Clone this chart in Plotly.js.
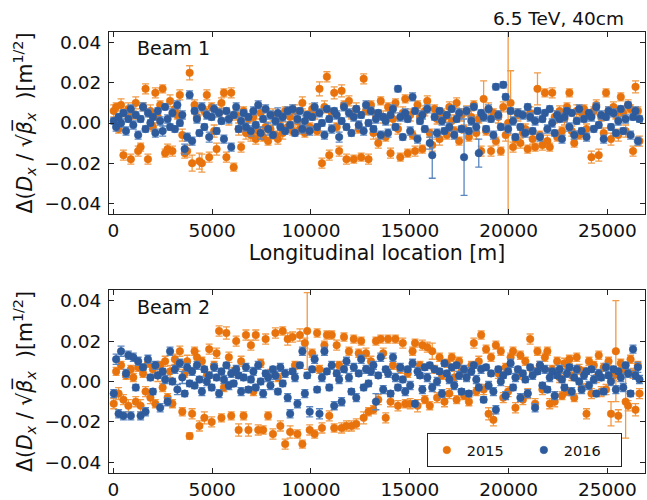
<!DOCTYPE html>
<html><head><meta charset="utf-8">
<script src="https://cdn.plot.ly/plotly-3.0.1.min.js"></script>
<style>html,body{margin:0;padding:0;background:#fff}#chart{width:647px;height:500px}</style>
</head><body><div id="chart"></div>
<script>
// BPM longitudinal locations [m]
const s_pos = [
20,140,265,390,510,640,760,885,
1010,1135,1255,1380,1505,1630,1750,1875,
2000,2125,2250,2370,2495,2620,2745,2870,
2990,3115,3240,3365,3490,3610,3735,3860,
3985,4110,4230,4355,4480,4605,4730,4850,
4975,5100,5225,5350,5470,5595,5720,5845,
5965,6090,6215,6340,6465,6590,6710,6835,
6960,7085,7205,7330,7455,7580,7705,7830,
7950,8075,8200,8325,8450,8570,8695,8820,
8945,9070,9190,9315,9440,9565,9690,9810,
9935,10060,10185,10310,10430,10555,10680,10805,
10925,11050,11175,11300,11425,11550,11670,11795,
11920,12045,12165,12290,12415,12540,12665,12785,
12910,13035,13160,13285,13405,13530,13655,13780,
13900,14025,14150,14275,14400,14520,14645,14770,
14895,15020,15140,15265,15390,15515,15635,15760,
15885,16010,16135,16255,16380,16505,16630,16755,
16875,17000,17125,17250,17370,17495,17620,17745,
17870,17990,18115,18240,18365,18490,18610,18735,
18860,18985,19110,19230,19355,19480,19605,19730,
19850,19975,20100,20225,20345,20470,20595,20720,
20845,20965,21090,21215,21340,21460,21585,21710,
21835,21960,22080,22205,22330,22455,22580,22700,
22825,22950,23075,23195,23320,23445,23570,23695,
23815,23940,24065,24190,24310,24435,24560,24685,
24810,24930,25055,25180,25305,25425,25550,25675,
25800,25920,26045,26170,26295,26420,26540,26620];

// values in units of 1e-3 m^(1/2)
const b1_2015 = [
6,8,-3,9,-16,5,7,-18,
4,10,-14,-12,8,17,-18,6,
-2,15,3,9,17,-15,-13,11,
-14,7,4,14,-6,-15,-14,25,
-20,9,3,-19,-20,6,14,-17,
8,-4,-13,5,10,15,-17,2,
15,-22,4,-3,-12,6,-5,2,
-6,3,-8,-4,5,-7,-2,-9,
-3,4,-6,-8,2,-5,6,-2,
3,-4,6,1,-3,10,-5,4,
-2,7,5,-4,17,-20,8,23,
-16,5,15,-2,-14,16,9,-18,
11,4,-18,7,-3,-17,22,6,
-18,9,-5,4,-10,11,3,-7,
8,-15,2,10,-3,-17,5,12,
-15,4,-6,-14,9,3,-13,6,
11,-5,-11,7,2,-8,5,3,
-6,8,1,-4,10,-9,4,-3,
6,-7,3,9,-5,2,-14,12,
-4,7,-14,5,-9,3,-14,8,
-6,0,10,-12,-8,4,-10,-5,
-3,-13,5,-8,-12,17,-6,-11,
15,-9,-12,15,3,-7,6,-4,
2,8,15,-4,-10,6,-6,5,
7,-3,4,-17,6,9,-16,3,
-5,15,6,-8,8,4,-6,13,
5,-4,9,7,-14,18,6,-9];
const b1_2015_err = [
3,2,2,3,2.5,2,3,2.5,
2,3,2.5,2,2,2.5,2.5,3,
2,2.5,3,2,2,2,2.5,3,
2.5,3,2,2.5,3,2.5,3,3.5,
4,2.5,2,4,4.5,2,2.5,2.5,
2,3,3,2,2.5,2,2.5,3,
2.5,2,2.5,3,2.5,2,3,2,
3,2,2.5,2,3,2,2.5,2,
2,3,2,2.5,2,3,2,2.5,
2.5,2,3,2,2.5,3,2,2,
2,2.5,3,2,3.5,2.5,3,2.5,
2.5,2,3,2,2.5,3,2,2.5,
2.5,2,2,3,2,2,2.5,2,
2.5,2,3,2,2.5,2,3,2,
2,2.5,3,2,2.5,2,3,2,
2,3,2,2.5,2,3,2,2.5,
2.5,2,3,2,2.5,3,2,2.5,
2,2.5,3,2,2.5,2,3,2,
2.5,2,3,2,3,2,2.5,9,
2,3,2.5,2,2,3,2,2.5,
3,60,16,2.5,2,3,2.5,2,
2.5,2,3,2.5,2,8,2,2.5,
2,3,2,2.5,3,2,2.5,2,
3,2,2,2.5,2,3,2,2.5,
2,2.5,2,3,2,2.5,3,2,
2.5,2,2,3,2.5,2,3,2,
2,3,2.5,2,2.5,3,2,2.5];
const b1_2016 = [
1,-2,3,0,5,-4,2,7,
-1,4,-6,2,8,-3,5,0,
3,-5,6,1,-4,8,2,-2,
5,-3,9,0,4,-13,-7,14,
-9,6,2,-5,8,-2,4,-7,
3,7,-4,5,1,-8,6,2,
-12,4,8,-3,1,5,-2,3,
-4,6,-1,9,-5,2,7,-3,
4,-6,1,5,-2,3,-4,6,
-1,7,-5,2,6,-3,1,4,
-4,3,8,-2,5,0,-6,7,
2,-3,6,4,-7,1,8,-2,
5,-5,3,7,-1,4,-4,9,
0,6,-3,2,5,-6,3,1,
-5,4,7,-2,17,3,-7,5,
2,-4,13,6,-8,1,4,-3,
7,-10,-16,3,-5,6,1,-4,
4,-2,7,-6,2,5,-3,-17,
6,-4,1,8,-2,-15,5,3,
-3,7,2,-6,18,4,-2,19,
13,-3,6,1,-7,5,-2,4,
-5,8,3,-4,1,6,-7,2,
5,-3,7,0,-5,4,2,-8,
3,6,-2,5,-6,1,7,-4,
2,-7,5,3,-3,8,-1,4,
-8,3,6,-2,5,-5,1,7,
-4,2,9,-6,3,6,-9,2];
const b1_2016_err = [
1.5,2,1.5,2,1.5,2,1.5,2,
2,1.5,2,1.5,2,1.5,2,1.5,
1.5,2,1.5,2,2.5,1.5,2,1.5,
2,1.5,2,1.5,2,2.5,2,2,
2,1.5,2,1.5,2,1.5,2,2.5,
1.5,2,1.5,2,1.5,2,1.5,2,
2,1.5,2,1.5,2,1.5,2,1.5,
2.5,2,1.5,2,3,1.5,2,3,
2,1.5,2,2.5,1.5,2,1.5,2,
1.5,2,1.5,2,1.5,2,2.5,1.5,
2,1.5,2,1.5,2,1.5,2,1.5,
1.5,2,1.5,2,2.5,1.5,2,1.5,
2,1.5,2,1.5,2,1.5,2,2,
1.5,2,1.5,2,1.5,2,1.5,2,
2,1.5,2,1.5,1.5,2,1.5,2,
1.5,2,2,1.5,2,1.5,2,1.5,
2,3,11.5,1.5,2,1.5,2,1.5,
1.5,2,1.5,2,1.5,2,1.5,19,
2,1.5,2,1.5,2,7,1.5,2,
1.5,2,1.5,2,1.5,2,1.5,1.5,
1.5,2,1.5,2,1.5,2,1.5,2,
2,1.5,2,1.5,2,1.5,2,1.5,
1.5,2,1.5,2,1.5,2,1.5,2,
2,1.5,2,1.5,2,1.5,2,1.5,
1.5,2,1.5,2,1.5,2,1.5,2,
2,1.5,2,1.5,2,1.5,2,1.5,
1.5,2,1.5,2,1.5,2,2,1.5];
const b2_2015 = [
-11,5,-6,8,-9,3,-12,6,
2,-10,7,-12,4,-5,9,-8,
6,-11,3,8,-3,10,-8,5,
-11,11,8,15,-15,4,10,-27,
-16,15,12,-22,10,-18,3,16,
-20,8,14,25,-18,-3,24,12,
-17,5,20,-24,10,-17,23,-24,
18,-5,23,-24,9,-24,21,-17,
4,-26,24,2,-22,25,-31,21,
-25,22,8,-26,23,-31,19,25,
-24,14,-26,24,6,-23,18,23,
-17,23,-23,18,8,-23,22,-22,
15,-22,21,-21,14,20,-18,14,
-15,10,-14,20,-9,21,14,-18,
21,-10,8,21,-12,6,19,-11,
4,-11,15,19,-12,8,18,-9,
17,-12,15,6,-8,12,3,-10,
9,-6,12,2,-9,10,5,-7,
3,-10,8,19,-5,10,23,-4,
16,-16,12,-19,18,4,15,-8,
7,-5,12,15,-13,3,13,-9,
10,-6,21,5,-11,15,8,-4,
12,15,-11,6,-10,10,2,-7,
9,-5,11,3,-8,12,6,-3,
5,-16,10,-6,8,2,13,-5,
7,-4,10,-16,3,15,-17,9,
6,-10,-12,11,4,-14,8,-6];
const b2_2015_err = [
2.5,2,3,2,2.5,2,3,2,
2,2.5,2,3,2,2.5,2,3,
2.5,2,3,2,2,2.5,2,3,
2,2.5,2,2.5,2,2,3,1.5,
2.5,2,3,2.5,2,3,2,2.5,
2.5,2,2.5,2.5,2,2,3,2.5,
2,2,2.5,3,2.5,2,2.5,3,
2.5,2,2.5,2.5,2,2,2.5,2,
2,2.5,2.5,2,2.5,2,2.5,3,
3,2.5,2,2,3,2,2.5,19,
2.5,2,2,2,2,2.5,2,2,
2.5,2,2,2.5,2,2.5,2,2.5,
2,2.5,2,2.5,2,2,3,2.5,
2,2.5,2,2,2.5,2,2.5,2.5,
2,2.5,2,2,2.5,2,2.5,2,
2,2.5,2,2,3,2,2.5,2,
2.5,2,4,2,2.5,2,2,2.5,
2,2.5,2,3,2,2,2.5,2,
2.5,2,2,2.5,2,2.5,2,2.5,
2,3,2,3,2,2.5,2,2.5,
2,2.5,2,2,2.5,2,2,2.5,
2,2.5,2.5,2,2.5,2,2,2.5,
2,2,2.5,2,2.5,2,2.5,2,
2.5,2,2,2.5,2,2,2.5,2,
2,2.5,2,2.5,2,2.5,2,2.5,
2,2.5,2,6,2.5,25,3,2,
2.5,18,2.5,2,2.5,3,2,2.5];
const b2_2016 = [
-6,11,-16,15,-17,4,13,-17,
12,-3,10,-17,7,-15,11,2,
-5,8,3,-13,5,1,-10,15,
0,6,-4,9,2,-6,7,-1,
5,-2,8,1,-5,6,0,3,
-3,7,2,-6,5,1,8,-2,
4,-1,6,3,-5,2,7,-4,
1,5,-3,8,0,-6,4,2,
-2,6,3,-5,7,-1,4,-8,
-16,5,2,-11,8,15,-6,3,
-15,6,11,-4,-16,2,15,5,
-3,8,-12,4,1,-10,6,10,
2,-5,7,-8,4,11,-3,6,
-1,5,8,-10,3,12,-4,6,
4,-6,12,2,-3,7,1,-5,
6,-2,9,-11,5,3,-4,7,
2,8,-3,6,0,5,-6,9,
4,1,7,-2,8,3,-5,6,
2,-6,5,8,1,-3,6,-9,
7,-2,4,-5,-14,6,0,3,
-7,5,9,-3,2,6,-8,4,
1,-6,7,3,-13,5,8,-2,
6,-4,2,5,-7,3,6,1,
-3,4,7,-5,2,6,0,-4,
3,5,-2,6,1,-6,4,2,
-5,7,3,0,6,-4,5,2,
-3,8,4,-6,16,3,7,1];
const b2_2016_err = [
2,2.5,2,2.5,2,2,2,2,
2,1.5,2,2,1.5,2,2,1.5,
1.5,2,1.5,2,1.5,2,2,2,
1.5,2,2.5,2,3,1.5,2,1.5,
2,1.5,2,1.5,2,1.5,2,1.5,
1.5,2,1.5,2,1.5,2,1.5,2,
2,1.5,2,1.5,2,1.5,2,1.5,
1.5,2,1.5,2,1.5,2,1.5,2,
2,1.5,2,1.5,2,1.5,2,2,
2,1.5,2,2,1.5,2,2,1.5,
2.5,1.5,2,1.5,2.5,2,2,1.5,
1.5,2,2,1.5,2,2,1.5,2,
2,1.5,2,2,1.5,2,1.5,2,
1.5,2,2,4,1.5,2,2,1.5,
2,1.5,2,2,1.5,2,1.5,2,
1.5,2,2,1.5,2,1.5,2,1.5,
2,1.5,2,1.5,2,1.5,2,1.5,
1.5,2,1.5,2,1.5,2,1.5,2,
2,1.5,2,1.5,2,1.5,2,1.5,
1.5,2,1.5,2,2,1.5,2,1.5,
2,1.5,2,1.5,2,1.5,2,1.5,
1.5,2,1.5,2,2,1.5,2,1.5,
2,1.5,2,1.5,2,1.5,2,1.5,
1.5,2,1.5,2,1.5,2,1.5,2,
2,1.5,2,1.5,2,1.5,2,1.5,
1.5,2,1.5,2,1.5,2,1.5,2,
2,1.5,2,1.5,2,2,2.5,2];

const years = ['2015', '2016'];
const xTicks = [0, 5000, 10000, 15000, 20000, 25000];
const xTickText = ['0', '5000', '10000', '15000', '20000', '25000'];
const yTicks = [-0.04, -0.02, 0.00, 0.02, 0.04];

const UNIT = 1e-3;
const toM = a => a.map(v => v * UNIT);
const ORANGE = '#e8720c', ORANGE_ERR = '#f29a45';
const BLUE = '#2e5b9c', BLUE_ERR = '#5a86c0';

function tr(y, e, name, xa, ya, col, ecol, show) {
  return {
    type: 'scatter', mode: 'markers', x: s_pos, y: toM(y), name: name,
    xaxis: xa, yaxis: ya, showlegend: show, legendgroup: name,
    marker: {color: col, size: 7.5, line: {color: col, width: 0.6}},
    error_y: {type: 'data', array: toM(e), visible: true, color: ecol, thickness: 1.3, width: 3.5}
  };
}

const data = [
  tr(b1_2015, b1_2015_err, years[0], 'x', 'y', ORANGE, ORANGE_ERR, false),
  tr(b1_2016, b1_2016_err, years[1], 'x', 'y', BLUE, BLUE_ERR, false),
  tr(b2_2015, b2_2015_err, years[0], 'x2', 'y2', ORANGE, ORANGE_ERR, true),
  tr(b2_2016, b2_2016_err, years[1], 'x2', 'y2', BLUE, BLUE_ERR, true)
];

const FONT = 'DejaVu Sans, sans-serif';
const TICK = 18.5, LAB = 20.5;
const axBase = {
  showline: true, linecolor: '#222', linewidth: 1, mirror: 'allticks',
  ticks: 'inside', ticklen: 5, tickwidth: 1, tickcolor: '#222', automargin: false,
  showgrid: false, zeroline: false, tickfont: {family: FONT, size: TICK, color: '#111'}
};
const ytitle = 'Δ(<i>D<sub>x</sub></i> / √<i>β\u0305<sub>x</sub></i>  )[m<sup>1/2</sup>]';

const layout = {
  width: 647, height: 500,
  margin: {l: 109, r: 2, t: 32, b: 27},
  paper_bgcolor: '#fff', plot_bgcolor: '#fff',
  font: {family: FONT, size: TICK, color: '#111'},
  showlegend: true,
  xaxis: Object.assign({}, axBase, {anchor: 'y', domain: [0, 1], range: [-220, 26900], tickvals: xTicks, ticktext: xTickText, ticklabelstandoff: 0,
    title: {text: 'Longitudinal location [m]', font: {family: FONT, size: LAB}, standoff: 4}}),
  yaxis: Object.assign({}, axBase, {anchor: 'x', domain: [0.5873, 1], range: [-0.0453, 0.0453], tickvals: yTicks, tickformat: '.2f', ticklabelstandoff: 3,
    title: {text: ytitle, font: {family: FONT, size: LAB}, standoff: 6}}),
  xaxis2: Object.assign({}, axBase, {anchor: 'y2', domain: [0, 1], range: [-220, 26900], tickvals: xTicks, ticktext: xTickText, ticklabelstandoff: 0}),
  yaxis2: Object.assign({}, axBase, {anchor: 'x2', domain: [0, 0.415], range: [-0.0453, 0.0453], tickvals: yTicks, tickformat: '.2f', ticklabelstandoff: 3,
    title: {text: ytitle, font: {family: FONT, size: LAB}, standoff: 6}}),
  legend: {orientation: 'h', x: 0.593, y: 0.052, xanchor: 'left', yanchor: 'middle',
    bordercolor: '#222', borderwidth: 1, bgcolor: '#fff', entrywidth: 52,
    itemwidth: 30, tracegroupgap: 0,
    font: {family: FONT, size: 14.5}},
  annotations: [
    {text: 'Beam 1', xref: 'paper', yref: 'paper', x: 0.0485, y: 0.9637, xanchor: 'left', yanchor: 'middle', showarrow: false, font: {family: FONT, size: 19}},
    {text: 'Beam 2', xref: 'paper', yref: 'paper', x: 0.0485, y: 0.3764, xanchor: 'left', yanchor: 'middle', showarrow: false, font: {family: FONT, size: 19}},
    {text: '6.5 TeV, 40cm', xref: 'paper', yref: 'paper', x: 0.9646, y: 1.0295, xanchor: 'right', yanchor: 'middle', showarrow: false, font: {family: FONT, size: 18.5}}
  ]
};

Plotly.newPlot('chart', data, layout, {displayModeBar: false, staticPlot: true});
</script></body></html>
